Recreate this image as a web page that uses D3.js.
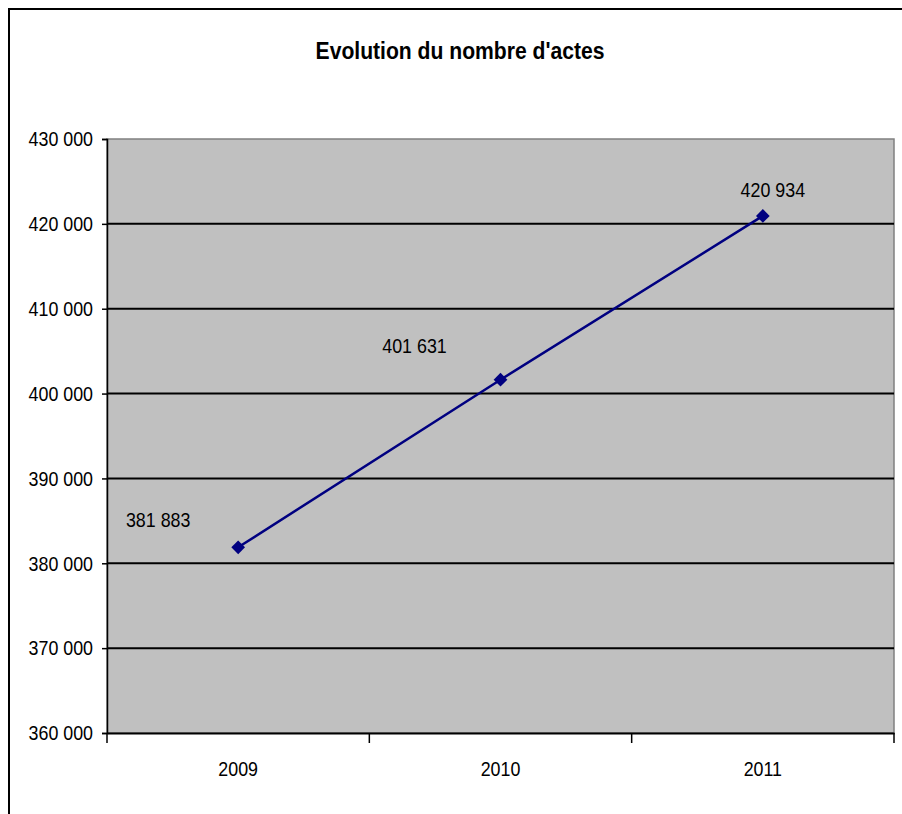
<!DOCTYPE html>
<html><head><meta charset="utf-8">
<script src="https://cdn.jsdelivr.net/npm/d3@7"></script>
<style>
html,body{margin:0;padding:0;background:#fff;}
text{font-family:"Liberation Sans",Arial,sans-serif;fill:#000;}
</style></head>
<body>
<svg id="chart" width="902" height="814"></svg>
<script>
const title = "Evolution du nombre d'actes";
const years = ["2009", "2010", "2011"];
const actes = [381883, 401631, 420934];
const yTicks = [360000, 370000, 380000, 390000, 400000, 410000, 420000, 430000];
const valueLabels = ["381 883", "401 631", "420 934"];
const labelOffsets = [[-80, -28], [-86, -34], [10, -26]];

const SX = 0.85; // horizontal condensing of text
const svg = d3.select("#chart");
const plot = {left: 107, top: 139, right: 894, bottom: 733};

svg.append("path").attr("d", "M9,830 V9 H920")
  .attr("fill", "none").attr("stroke", "#000").attr("stroke-width", 2);

const x = d3.scaleBand().domain(years).range([plot.left, plot.right]);
const y = d3.scaleLinear().domain([360000, 430000]).range([plot.bottom, plot.top]);

svg.append("rect").attr("x", plot.left).attr("y", plot.top)
  .attr("width", plot.right - plot.left).attr("height", plot.bottom - plot.top)
  .attr("fill", "#c0c0c0").attr("stroke", "#808080").attr("stroke-width", 1.5);

svg.append("g").selectAll("line")
  .data(yTicks.filter(d => d > 360000 && d < 430000))
  .join("line")
  .attr("x1", plot.left).attr("x2", plot.right)
  .attr("y1", d => y(d)).attr("y2", d => y(d))
  .attr("stroke", "#000").attr("stroke-width", 2);

const fmt = d => d3.format(",")(d).replace(/,/g, " ");

function condense(sel) {
  sel.each(function () {
    const t = d3.select(this);
    const tx = +t.attr("x") || 0;
    t.attr("x", tx / SX).attr("transform", `scale(${SX},1)`);
  });
}

const yAxis = svg.append("g").attr("transform", `translate(${plot.left},0)`)
  .call(d3.axisLeft(y).tickValues(yTicks).tickFormat(fmt).tickSize(5).tickPadding(9));
yAxis.select(".domain").attr("stroke", "#000").attr("stroke-width", 1.5);
yAxis.selectAll(".tick line").attr("stroke", "#000").attr("stroke-width", 1.5);
yAxis.selectAll(".tick text").attr("font-size", 21).attr("fill", "#000")
  .attr("font-family", "'Liberation Sans', Arial, sans-serif").call(condense);

const xAxis = svg.append("g").attr("transform", `translate(0,${plot.bottom})`)
  .call(d3.axisBottom(x).tickSize(0).tickPadding(28));
xAxis.select(".domain").attr("stroke", "#000").attr("stroke-width", 2);
xAxis.selectAll(".tick text").attr("font-size", 21).attr("fill", "#000")
  .attr("font-family", "'Liberation Sans', Arial, sans-serif").call(condense);

const sepTicks = years.map(d => x(d)).concat([x(years[years.length - 1]) + x.bandwidth()]);
svg.append("g").selectAll("line").data(sepTicks).join("line")
  .attr("x1", d => d).attr("x2", d => d)
  .attr("y1", plot.bottom).attr("y2", plot.bottom + 10)
  .attr("stroke", "#000").attr("stroke-width", 1.5);

const pts = years.map((yr, i) => [x(yr) + x.bandwidth() / 2, y(actes[i])]);
svg.append("path").datum(pts)
  .attr("d", d3.line())
  .attr("fill", "none").attr("stroke", "#000080").attr("stroke-width", 2.5);

svg.append("g").selectAll("path").data(pts).join("path")
  .attr("transform", d => `translate(${d[0]},${d[1]})`)
  .attr("d", d3.symbol().type(d3.symbolDiamond2).size(120))
  .attr("fill", "#000080");

svg.append("g").selectAll("text").data(pts).join("text")
  .attr("transform", (d, i) => `translate(${d[0] + labelOffsets[i][0]},${d[1] + labelOffsets[i][1]}) scale(${SX},1)`)
  .attr("text-anchor", "middle").attr("dy", "0.35em")
  .attr("font-size", 21)
  .text((d, i) => valueLabels[i]);

svg.append("text")
  .attr("transform", `translate(460,51) scale(0.88,1)`)
  .attr("text-anchor", "middle").attr("dy", "0.35em")
  .attr("font-size", 24).attr("font-weight", "bold")
  .text(title);
</script>
</body></html>
